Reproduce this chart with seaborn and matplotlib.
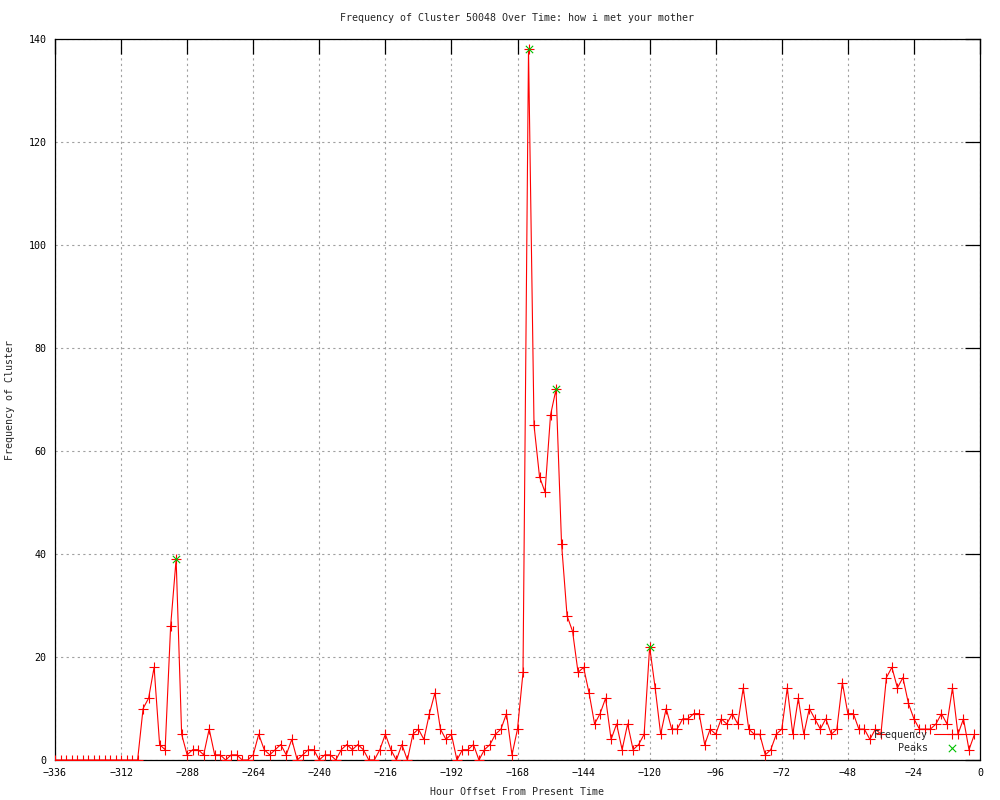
import numpy as np
import pandas as pd
import matplotlib
matplotlib.use("Agg")
import matplotlib.pyplot as plt
import seaborn as sns

# ---- data ----
hours = np.arange(-336, 0, 2)  # -336 .. -2, every 2 hours
frequency = [
    0, 0, 0, 0, 0, 0, 0, 0, 0, 0, 0, 0, 0, 0, 0, 0,          # -336 .. -306
    10, 12, 18, 3, 2, 26, 39, 5, 1, 2, 2, 1, 6, 1, 1, 0,     # -304 .. -274
    1, 1, 0, 0, 1, 5, 2, 1, 2, 3, 1, 4, 0, 1, 2, 2,          # -272 .. -242
    0, 1, 1, 0, 2, 3, 2, 3, 2, 0, 0, 2, 5, 2, 0, 3,          # -240 .. -210
    0, 5, 6, 4, 9, 13, 6, 4, 5, 0, 2, 2, 3, 0, 2, 3,         # -208 .. -178
    5, 6, 9, 1, 6, 17, 138, 65, 55, 52, 67, 72, 42, 28, 25, 17,  # -176 .. -146
    18, 13, 7, 9, 12, 4, 7, 2, 7, 2, 3, 5, 22, 14, 5, 10,    # -144 .. -114
    6, 6, 8, 8, 9, 9, 3, 6, 5, 8, 7, 9, 7, 14, 6, 5,         # -112 .. -82
    5, 1, 2, 5, 6, 14, 5, 12, 5, 10, 8, 6, 8, 5, 6, 15,      # -80 .. -50
    9, 9, 6, 6, 4, 6, 5, 16, 18, 14, 16, 11, 8, 6, 6, 6,     # -48 .. -18
    7, 9, 7, 14, 5, 8, 2, 5,                                 # -16 .. -2
]
peak_hours = [-292, -164, -154, -120]
peak_values = [39, 138, 72, 22]

x_ticks = list(range(-336, 1, 24))
y_ticks = list(range(0, 141, 20))

title = "Frequency of Cluster 50048 Over Time: how i met your mother"
x_label = "Hour Offset From Present Time"
y_label = "Frequency of Cluster"

df = pd.DataFrame({"hour": hours, "freq": frequency})
peaks = pd.DataFrame({"hour": peak_hours, "freq": peak_values})

# ---- style ----
sns.set_style("white")
plt.rcParams["font.family"] = ["DejaVu Sans Mono", "DejaVu Sans"]
FS = 7.2

fig = plt.figure(figsize=(10, 8), dpi=100)
ax = fig.add_axes([0.055, 0.05, 0.925, 0.90125])

sns.lineplot(data=df, x="hour", y="freq", ax=ax, color="#ff0000",
             linewidth=0.8, marker="+", markersize=6.5, markeredgewidth=0.8,
             markeredgecolor="#ff0000", label="Frequency", zorder=3)
sns.scatterplot(data=peaks, x="hour", y="freq", ax=ax, color="#00c000",
                marker="x", s=28, linewidth=0.8, label="Peaks", zorder=4)

ax.set_xlim(-336, 0)
ax.set_ylim(0, 140)
ax.set_xticks(x_ticks)
ax.set_yticks(y_ticks)
ax.tick_params(direction="in", top=True, right=True, length=11, width=0.9,
               labelsize=FS, colors="black", pad=6)
ax.grid(True, linestyle=(0, (2, 3)), color="#a0a0a0", linewidth=0.8)
for s in ax.spines.values():
    s.set_color("black")
    s.set_linewidth(0.9)

ax.set_title(title, fontsize=FS, pad=13)
ax.set_xlabel(x_label, fontsize=FS, labelpad=6)
ax.set_ylabel(y_label, fontsize=FS, labelpad=10)

leg = ax.legend(loc="lower right", bbox_to_anchor=(0.997, 0.0), frameon=False,
                markerfirst=False, fontsize=FS, handlelength=3.6,
                handletextpad=0.6, labelspacing=0.35, borderaxespad=0.3)

fig.savefig("out.png", dpi=100)
